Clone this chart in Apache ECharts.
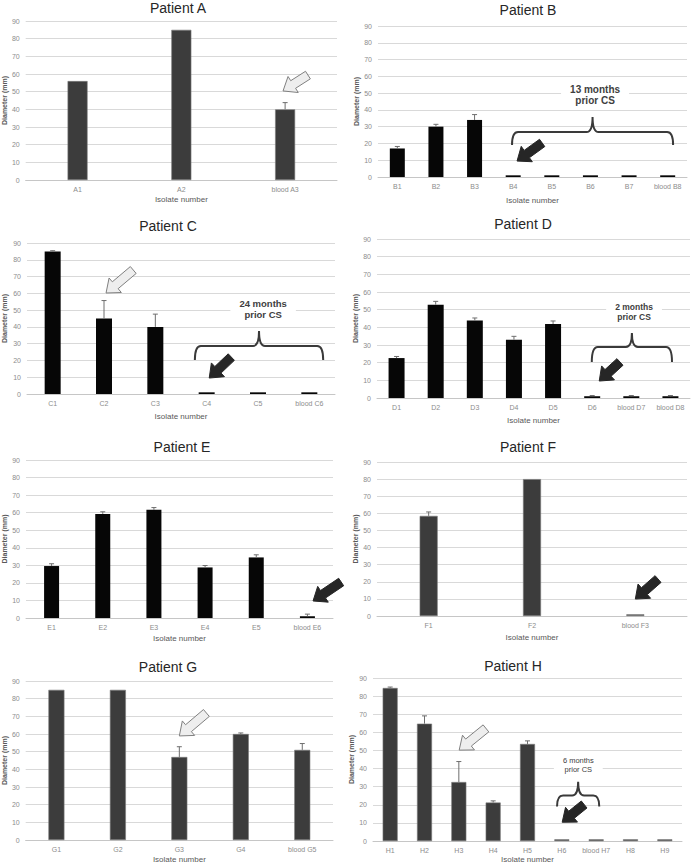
<!DOCTYPE html>
<html>
<head>
<meta charset="utf-8">
<title>Inhibition zone diameter per isolate</title>
<script src="https://cdn.jsdelivr.net/npm/echarts@6/dist/echarts.min.js"></script>
<style>
  html, body { margin: 0; padding: 0; background: #fff; }
  #chart { width: 693px; height: 864px; }
</style>
</head>
<body>
<div id="chart"></div>
<script>
// ---- data (diameter in mm, error = top of error bar) ----
const catsA = ['A1', 'A2', 'blood A3'];
const valsA = [56, 85, 40];
const errA = [56, 85, 43.8];

const catsB = ['B1', 'B2', 'B3', 'B4', 'B5', 'B6', 'B7', 'blood B8'];
const valsB = [17, 30, 34, 1, 1, 1, 1, 1];
const errB = [18.2, 31.4, 37.2, 1, 1, 1, 1, 1];

const catsC = ['C1', 'C2', 'C3', 'C4', 'C5', 'blood C6'];
const valsC = [85, 45, 40, 1, 1, 1];
const errC = [85.4, 55.7, 47.6, 1, 1, 1];

const catsD = ['D1', 'D2', 'D3', 'D4', 'D5', 'D6', 'blood D7', 'blood D8'];
const valsD = [22.6, 52.8, 43.8, 33, 41.9, 1, 1, 1];
const errD = [23.5, 54.7, 45.3, 34.9, 43.6, 1.4, 1.4, 1.4];

const catsE = ['E1', 'E2', 'E3', 'E4', 'E5', 'blood E6'];
const valsE = [29.6, 59.3, 61.6, 28.8, 34.5, 1];
const errE = [30.9, 60.5, 62.9, 29.9, 36, 2.2];

const catsF = ['F1', 'F2', 'blood F3'];
const valsF = [58.5, 80, 1];
const errF = [60.8, 80, 1];

const catsG = ['G1', 'G2', 'G3', 'G4', 'blood G5'];
const valsG = [85, 85, 47, 60, 51];
const errG = [85.3, 85.3, 52.8, 60.6, 54.6];

const catsH = ['H1', 'H2', 'H3', 'H4', 'H5', 'H6', 'blood H7', 'H8', 'H9'];
const valsH = [84.5, 64.8, 32.6, 21.3, 53.6, 1, 1, 1, 1];
const errH = [85, 69.1, 43.9, 22.2, 55.3, 1, 1, 1, 1];

// ---- annotations, in data units ----
// arrows: [tail category index, tail value, head category index, head value]
const lightArrowsA = [[2.22, 59.4, 1.98, 50.4]];
const lightArrowsC = [[1.57, 73.9, 1.04, 60.2]];
const lightArrowsG = [[2.44, 71.9, 2.0, 58.9]];
const lightArrowsH = [[2.79, 62.2, 2.01, 50.2]];
const darkArrowsB = [[3.75, 20.3, 3.1, 9.5]];
const darkArrowsC = [[3.48, 22, 3.05, 9.5]];
const darkArrowsD = [[5.71, 20.4, 5.18, 9.6]];
const darkArrowsE = [[5.66, 20.5, 5.11, 9.7]];
const darkArrowsF = [[2.22, 21.6, 2.0, 9.9]];
const darkArrowsH = [[5.65, 20.2, 5.01, 10.4]];
// braces: [from index, to index, line value, tip value, peak value]
const braceB = [2.97, 7.14, 26.8, 19.1, 35.8];
const braceC = [2.77, 5.27, 28.6, 20.3, 37.5];
const braceD = [4.99, 7.04, 28.9, 20.4, 36.8];
const braceH = [4.86, 6.09, 25.1, 19.1, 32.7];
// notes: [index, value]
const noteB = [5.12, 48.9];
const noteC = [4.1, 50.4];
const noteD = [6.07, 48.7];
const noteH = [5.48, 42];
const noteTextB = '13 months\nprior CS';
const noteTextC = '24 months\nprior CS';
const noteTextD = '2 months\nprior CS';
const noteTextH = '6 months\nprior CS';

const FONT = '"Liberation Sans", Arial, sans-serif';
const GRAY = '#3c3c3c';
const BLACK = '#060606';

const panels = [
  { name: 'Patient A', cats: catsA, vals: valsA, err: errA, grid: [25, 21, 312, 159], title: [178, 8], barWidth: 20, color: GRAY, yGap: 15, xGap: 15, light: lightArrowsA },
  { name: 'Patient B', cats: catsB, vals: valsB, err: errB, grid: [378, 26, 309, 151], title: [528, 10], barWidth: 15, color: BLACK, yGap: 16, xGap: 19, dark: darkArrowsB, brace: braceB, note: noteB, noteText: noteTextB, noteFont: 'bold 10px' },
  { name: 'Patient C', cats: catsC, vals: valsC, err: errC, grid: [27, 243, 308, 151], title: [168, 226], barWidth: 16, color: BLACK, yGap: 19, xGap: 18, light: lightArrowsC, dark: darkArrowsC, brace: braceC, note: noteC, noteText: noteTextC, noteFont: 'bold 9.5px' },
  { name: 'Patient D', cats: catsD, vals: valsD, err: errD, grid: [377, 239, 313, 159], title: [523, 224], barWidth: 16, color: BLACK, yGap: 15, xGap: 18, dark: darkArrowsD, brace: braceD, note: noteD, noteText: noteTextD, noteFont: 'bold 8.5px' },
  { name: 'Patient E', cats: catsE, vals: valsE, err: errE, grid: [25, 460, 308, 158], title: [182, 447], barWidth: 15, color: BLACK, yGap: 18, xGap: 16, dark: darkArrowsE },
  { name: 'Patient F', cats: catsF, vals: valsF, err: errF, grid: [377, 462, 310, 154], title: [528, 447], barWidth: 18, color: GRAY, yGap: 14, xGap: 17, dark: darkArrowsF },
  { name: 'Patient G', cats: catsG, vals: valsG, err: errG, grid: [23, 681, 310, 159], title: [168, 667], barWidth: 16, color: GRAY, yGap: 15, xGap: 15, light: lightArrowsG },
  { name: 'Patient H', cats: catsH, vals: valsH, err: errH, grid: [373, 678, 309, 165], title: [513, 666], barWidth: 15, color: GRAY, yGap: 13, xGap: 13, light: lightArrowsH, dark: darkArrowsH, brace: braceH, note: noteH, noteText: noteTextH, noteFont: '7.5px' }
];

// category index (may be fractional) + value -> pixel
function toPx(api, idx, val) {
  const p0 = api.coord([0, val]);
  const p1 = api.coord([1, val]);
  return [p0[0] + idx * (p1[0] - p0[0]), p0[1]];
}

function errorItem(params, api) {
  const i = api.value(0);
  const base = api.coord([i, api.value(1)]);
  const top = api.coord([i, api.value(2)]);
  if (base[1] - top[1] < 0.6) return null;
  const style = { stroke: '#6e6e6e', lineWidth: 1 };
  return {
    type: 'group',
    children: [
      { type: 'line', shape: { x1: base[0], y1: base[1], x2: top[0], y2: top[1] }, style },
      { type: 'line', shape: { x1: top[0] - 2.5, y1: top[1], x2: top[0] + 2.5, y2: top[1] }, style }
    ]
  };
}

function arrowRenderer(fill, stroke) {
  return function (params, api) {
    const t = toPx(api, api.value(0), api.value(1));
    const h = toPx(api, api.value(2), api.value(3));
    const dx = h[0] - t[0], dy = h[1] - t[1];
    const len = Math.sqrt(dx * dx + dy * dy);
    const ux = dx / len, uy = dy / len;
    const nx = -uy, ny = ux;
    const sw = 4.5, hw = 9.5, hl = 12;
    const bx = h[0] - ux * hl, by = h[1] - uy * hl;
    const pts = [
      [t[0] + nx * sw, t[1] + ny * sw],
      [bx + nx * sw, by + ny * sw],
      [bx + nx * hw, by + ny * hw],
      [h[0], h[1]],
      [bx - nx * hw, by - ny * hw],
      [bx - nx * sw, by - ny * sw],
      [t[0] - nx * sw, t[1] - ny * sw]
    ];
    return { type: 'polygon', shape: { points: pts }, style: { fill, stroke, lineWidth: 1 } };
  };
}

function braceItem(params, api) {
  const a = toPx(api, api.value(0), api.value(2));
  const b = toPx(api, api.value(1), api.value(2));
  const tipY = toPx(api, 0, api.value(3))[1];
  const peakY = toPx(api, 0, api.value(4))[1];
  const y = a[1];
  const xm = (a[0] + b[0]) / 2;
  const r = 6;
  const d = 'M' + a[0] + ' ' + tipY +
    ' Q' + a[0] + ' ' + y + ' ' + (a[0] + r) + ' ' + y +
    ' L' + (xm - r) + ' ' + y +
    ' Q' + xm + ' ' + y + ' ' + xm + ' ' + peakY +
    ' Q' + xm + ' ' + y + ' ' + (xm + r) + ' ' + y +
    ' L' + (b[0] - r) + ' ' + y +
    ' Q' + b[0] + ' ' + y + ' ' + b[0] + ' ' + tipY;
  return { type: 'path', shape: { pathData: d }, style: { fill: 'none', stroke: '#3a3a3a', lineWidth: 2 } };
}

function noteRenderer(text, font) {
  return function (params, api) {
    const p = toPx(api, api.value(0), api.value(1));
    return {
      type: 'text',
      x: p[0], y: p[1],
      style: {
        text: text,
        align: 'center', verticalAlign: 'middle',
        font: font + ' ' + FONT,
        fill: '#404040',
        lineHeight: parseFloat(font.replace('bold ', '')) + 1.5,
        backgroundColor: '#ffffff',
        padding: [1, 9]
      }
    };
  };
}

const option = { animation: false, backgroundColor: '#ffffff', title: [], grid: [], xAxis: [], yAxis: [], series: [] };

panels.forEach(function (p, k) {
  option.title.push({
    text: p.name, left: p.title[0], top: p.title[1], padding: 0,
    textAlign: 'center', textVerticalAlign: 'middle',
    textStyle: { fontSize: 14, fontWeight: 'normal', color: '#262626', fontFamily: FONT }
  });
  option.grid.push({ left: p.grid[0], top: p.grid[1], width: p.grid[2], height: p.grid[3] });
  option.xAxis.push({
    gridIndex: k, type: 'category', data: p.cats,
    axisLine: { lineStyle: { color: '#c6c6c6' } },
    axisTick: { show: false },
    axisLabel: { interval: 0, fontSize: 7, color: '#8c8c8c', margin: 6, fontFamily: FONT },
    name: 'Isolate number', nameLocation: 'middle', nameGap: p.xGap,
    nameTextStyle: { fontSize: 8, color: '#595959', fontFamily: FONT }
  });
  option.yAxis.push({
    gridIndex: k, type: 'value', min: 0, max: 90, interval: 10,
    axisLine: { show: false }, axisTick: { show: false },
    splitLine: { lineStyle: { color: '#d9d9d9', width: 1 } },
    axisLabel: { fontSize: 7, color: '#8c8c8c', margin: 6, fontFamily: FONT },
    name: 'Diameter (mm)', nameLocation: 'middle', nameGap: p.yGap, nameRotate: 90,
    nameTextStyle: { fontSize: 7, fontWeight: 'bold', color: '#595959', fontFamily: FONT }
  });
  option.series.push({
    type: 'bar', xAxisIndex: k, yAxisIndex: k, data: p.vals, barWidth: p.barWidth, silent: true,
    itemStyle: p.color === GRAY
      ? { color: GRAY, borderColor: '#7a7a7a', borderWidth: 0.6 }
      : { color: BLACK }
  });
  option.series.push({
    type: 'custom', xAxisIndex: k, yAxisIndex: k, silent: true, z: 3,
    data: p.cats.map(function (c, i) { return [i, p.vals[i], p.err[i]]; }),
    renderItem: errorItem
  });
  if (p.brace) {
    option.series.push({ type: 'custom', xAxisIndex: k, yAxisIndex: k, silent: true, z: 4, data: [p.brace], renderItem: braceItem });
  }
  if (p.note) {
    option.series.push({ type: 'custom', xAxisIndex: k, yAxisIndex: k, silent: true, z: 4, data: [p.note], renderItem: noteRenderer(p.noteText, p.noteFont) });
  }
  if (p.light) {
    option.series.push({ type: 'custom', xAxisIndex: k, yAxisIndex: k, silent: true, z: 5, data: p.light, renderItem: arrowRenderer('#eeeeee', '#808080') });
  }
  if (p.dark) {
    option.series.push({ type: 'custom', xAxisIndex: k, yAxisIndex: k, silent: true, z: 5, data: p.dark, renderItem: arrowRenderer('#262626', '#262626') });
  }
});

const chart = echarts.init(document.getElementById('chart'), null, { renderer: 'svg' });
chart.setOption(option);
</script>
</body>
</html>
